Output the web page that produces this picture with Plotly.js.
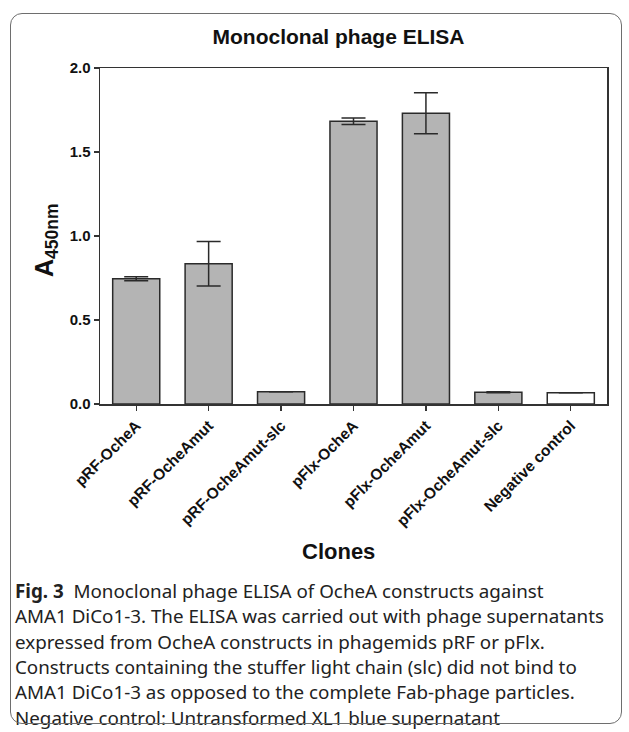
<!DOCTYPE html>
<html>
<head>
<meta charset="utf-8">
<script src="https://cdn.plot.ly/plotly-3.0.1.min.js"></script>
<style>
  html, body { margin: 0; padding: 0; background: #fff; }
  #wrap { position: relative; width: 629px; height: 732px; }
  #chart { position: absolute; left: 0; top: 0; width: 629px; height: 732px; }
  #frame { position: absolute; left: 10px; top: 13px; width: 612px; height: 711px;
           border: 1.5px solid #6e6e6e; border-radius: 12px; pointer-events: none; box-sizing: border-box; }
</style>
</head>
<body>
<div id="wrap">
  <div id="chart"></div>
  <div id="frame"></div>
</div>
<script>
// ---- data ----
const clones = ["pRF-OcheA", "pRF-OcheAmut", "pRF-OcheAmut-slc", "pFlx-OcheA", "pFlx-OcheAmut", "pFlx-OcheAmut-slc", "Negative control"];
const absorbance = [0.745, 0.835, 0.073, 1.683, 1.730, 0.070, 0.067];
const sem = [0.012, 0.133, 0, 0.020, 0.122, 0.003, 0];
const barColors = ["#b4b4b4", "#b4b4b4", "#b4b4b4", "#b4b4b4", "#b4b4b4", "#b4b4b4", "#ffffff"];
const yTicks = [0, 0.5, 1.0, 1.5, 2.0];
const chartTitle = "Monoclonal phage ELISA";
const xTitle = "Clones";
const yTitle = "A<sub>450nm</sub>";
const captionLines = [
  "<b>Fig. 3</b>  Monoclonal phage ELISA of OcheA constructs against",
  "AMA1 DiCo1-3. The ELISA was carried out with phage supernatants",
  "expressed from OcheA constructs in phagemids pRF or pFlx.",
  "Constructs containing the stuffer light chain (slc) did not bind to",
  "AMA1 DiCo1-3 as opposed to the complete Fab-phage particles.",
  "Negative control: Untransformed XL1 blue supernatant"
];

// ---- geometry ----
const W = 629, H = 732;
const M = { l: 100, r: 22, t: 68, b: 328 };
const plotW = W - M.l - M.r, plotH = H - M.t - M.b;
const px2x = px => (px - M.l) / plotW;
const py2y = py => (H - M.b - py) / plotH;

const sansBold = "Liberation Sans, Arial, sans-serif";
const yTickFont = { family: sansBold, size: 15, color: "#111", weight: "bold" };
const xTickFont = { family: sansBold, size: 15.5, color: "#111", weight: "bold" };
const capFont = { family: "Noto Sans, sans-serif", size: 18.8, color: "#222" };

const trace = {
  type: "bar",
  x: clones,
  y: absorbance,
  width: 0.65,
  marker: { color: barColors, line: { color: "#2a2a2a", width: 1.5 } },
  error_y: { type: "data", array: sem, visible: true, color: "#2a2a2a", thickness: 1.5, width: 12 },
  hoverinfo: "x+y"
};

const annotations = captionLines.map((t, i) => ({
  text: t, xref: "paper", yref: "paper",
  x: px2x(13), y: py2y(591 + i * 25.3),
  xanchor: "left", yanchor: "middle", align: "left",
  showarrow: false, font: capFont
}));
annotations.push({
  text: yTitle, xref: "paper", yref: "paper",
  x: px2x(46), y: py2y(240), textangle: -90,
  xanchor: "center", yanchor: "middle", showarrow: false,
  font: { family: sansBold, size: 25, color: "#111", weight: "bold" }
});
annotations.push({
  text: xTitle, xref: "paper", yref: "paper",
  x: px2x(338), y: py2y(551),
  xanchor: "center", yanchor: "middle", showarrow: false,
  font: { family: sansBold, size: 22, color: "#111", weight: "bold" }
});

const layout = {
  width: W, height: H,
  margin: M,
  paper_bgcolor: "#ffffff",
  plot_bgcolor: "#ffffff",
  showlegend: false,
  title: {
    text: chartTitle, xref: "container", yref: "container",
    x: 338.5 / W, y: 1 - 37 / H, xanchor: "center", yanchor: "middle",
    font: { family: sansBold, size: 21, color: "#111", weight: "bold" }
  },
  xaxis: {
    type: "category",
    range: [-0.5, 6.5],
    showline: true, linecolor: "#333", linewidth: 1.5, mirror: true,
    ticks: "outside", ticklen: 5, tickwidth: 1.2, tickcolor: "#333",
    tickangle: -45, tickfont: xTickFont,
    showgrid: false, zeroline: false, automargin: false
  },
  yaxis: {
    range: [0, 2.0],
    tickvals: yTicks, tickformat: ".1f",
    showline: true, linecolor: "#333", linewidth: 1.5, mirror: true,
    ticks: "outside", ticklen: 5, tickwidth: 1.2, tickcolor: "#333",
    tickfont: yTickFont,
    showgrid: false, zeroline: false, automargin: false
  },
  annotations: annotations
};

Plotly.newPlot("chart", [trace], layout, { staticPlot: true, displayModeBar: false });
</script>
</body>
</html>
